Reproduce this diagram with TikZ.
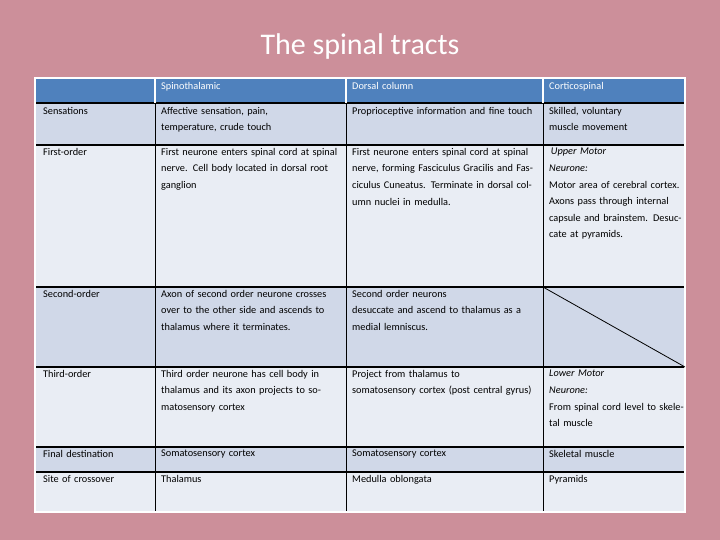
\documentclass[tikz,border=0pt]{standalone}
\usepackage{fontspec}
\setmainfont{Carlito}
\begin{document}
\begin{tikzpicture}[x=1pt,y=-1pt,
 cell/.style={anchor=north west,inner sep=0pt,align=left,font=\fontsize{10.3}{16.6}\selectfont,text width=#1},
 cell/.default=180pt]
\fill[fill={rgb,255:red,204;green,143;blue,154}] (0,0) rectangle (720,540);
\useasboundingbox (0,0) rectangle (720,540);
\node[text=white,font=\fontsize{30}{36}\selectfont] (title) at (360,47) {The spinal tracts};
\definecolor{hd}{RGB}{79,129,189}\definecolor{dk}{RGB}{208,216,232}\definecolor{lt}{RGB}{233,237,244}
\fill[hd] (35,78) rectangle (685,103);
\fill[dk] (35,103) rectangle (685,145);
\fill[lt] (35,145) rectangle (685,287);
\fill[dk] (35,287) rectangle (685,367);
\fill[lt] (35,367) rectangle (685,447);
\fill[dk] (35,447) rectangle (685,472);
\fill[lt] (35,472) rectangle (685,512);
\foreach \y in {103,145,287,367,447,472} \draw[black,line width=1.3pt] (35,\y) -- (685,\y);
\foreach \x in {155,346,543} {\draw[white,line width=1.3pt] (\x,78) -- (\x,103); \draw[black,line width=1pt] (\x,103) -- (\x,512);}
\draw[white,line width=2pt] (35,78) rectangle (685,512);
\draw[black,line width=0.8pt] (543,287) -- (685,367);
\node[cell=180pt,text=white] (h1) at (161,82) {Spinothalamic};
\node[cell=180pt,text=white] (h2) at (352,82) {Dorsal column};
\node[cell=140pt,text=white] (h3) at (549,82) {Corticospinal};
\node[cell=110pt] (r1) at (43,107) {Sensations};
\node[cell=182pt] (a1) at (161,107) {Affective sensation, pain,\\temperature, crude touch};
\node[cell=186pt] (b1) at (352,107) {Proprioceptive information and fine touch};
\node[cell=138pt] (c1) at (549,107) {Skilled, voluntary\\muscle movement};
\node[cell=110pt] (r2) at (43,148) {First-order};
\node[cell=182pt] (a2) at (161,148) {First neurone enters spinal cord at spinal nerve. Cell body located in dorsal root ganglion};
\node[cell=186pt] (b2) at (352,148) {First neurone enters spinal cord at spinal nerve, forming Fasciculus Gracilis and Fasciculus Cuneatus. Terminate in dorsal column nuclei in medulla.};
\node[cell=138pt] (c2) at (549,148) {\,\textit{Upper Motor}\\\textit{Neurone:}\\Motor area of cerebral cortex. Axons pass through internal capsule and brainstem. Desuccate at pyramids.};
\node[cell=110pt] (r3) at (43,290) {Second-order};
\node[cell=182pt] (a3) at (161,290) {Axon of second order neurone crosses over to the other side and ascends to thalamus where it terminates.};
\node[cell=186pt] (b3) at (352,290) {Second order neurons\\desuccate and ascend to thalamus as a medial lemniscus.};
\node[cell=110pt] (r4) at (43,370) {Third-order};
\node[cell=182pt] (a4) at (161,370) {Third order neurone has cell body in thalamus and its axon projects to somatosensory cortex};
\node[cell=186pt] (b4) at (352,370) {Project from thalamus to\\somatosensory cortex (post central gyrus)};
\node[cell=138pt] (c4) at (549,370) {\textit{Lower Motor}\\\textit{Neurone:}\\From spinal cord level to skeletal muscle};
\node[cell=110pt] (r5) at (43,450) {Final destination};
\node[cell=182pt] (a5) at (161,450) {Somatosensory cortex};
\node[cell=186pt] (b5) at (352,450) {Somatosensory cortex};
\node[cell=138pt] (c5) at (549,450) {Skeletal muscle};
\node[cell=110pt] (r6) at (43,475) {Site of crossover};
\node[cell=182pt] (a6) at (161,475) {Thalamus};
\node[cell=186pt] (b6) at (352,475) {Medulla oblongata};
\node[cell=138pt] (c6) at (549,475) {Pyramids};
\end{tikzpicture}
\end{document}
